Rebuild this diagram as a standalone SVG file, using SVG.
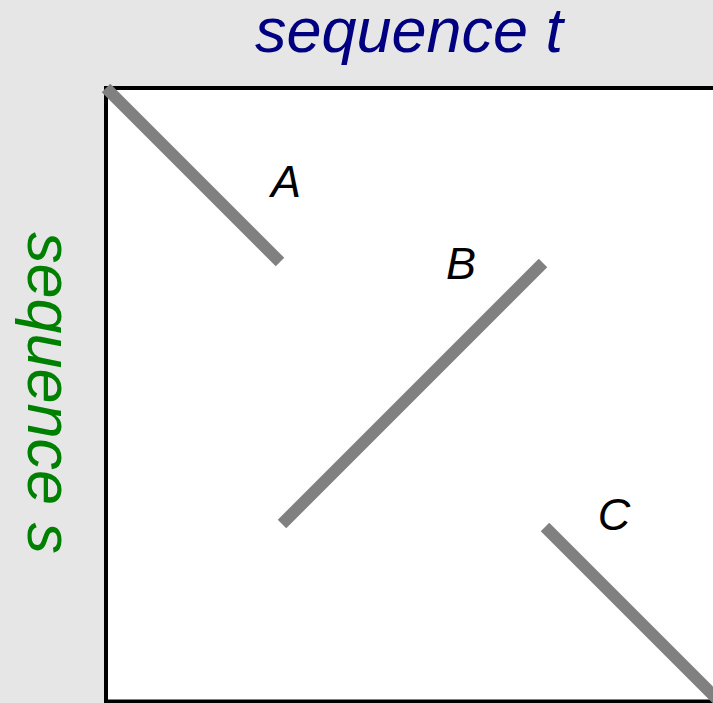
<svg xmlns="http://www.w3.org/2000/svg" width="713" height="703" viewBox="0 0 713 703">
<style>
.seg{stroke:#808080;stroke-width:12;stroke-linecap:butt;fill:none}
.lbl{font-family:"Liberation Sans",Arial,sans-serif;font-style:italic;font-size:45px;fill:#000;text-anchor:middle}
.ax{font-family:"Liberation Sans",Arial,sans-serif;font-style:italic;font-size:63px;text-anchor:middle}
</style>
<rect x="0" y="0" width="713" height="703" fill="#e6e6e6"/>
<g id="plot">
<rect x="106" y="88" width="700" height="613.5" fill="#ffffff" stroke="#000" stroke-width="4"/>
</g>
<g id="title-t"><text class="ax" x="409" y="52" fill="#000080">sequence t</text></g>
<g id="title-s"><text class="ax" transform="translate(28,393) rotate(90)" x="0" y="0" fill="#008000">sequence s</text></g>
<g id="connectors">
<line id="segA" class="seg" x1="106" y1="88" x2="280" y2="262"/>
<line id="segB" class="seg" x1="282" y1="524" x2="543" y2="263"/>
<line id="segC" class="seg" x1="545" y1="527" x2="720" y2="702"/>
</g>
<g id="label-A"><text class="lbl" x="286" y="197">A</text></g>
<g id="label-B"><text class="lbl" x="461" y="279">B</text></g>
<g id="label-C"><text class="lbl" x="614" y="530">C</text></g>
</svg>
